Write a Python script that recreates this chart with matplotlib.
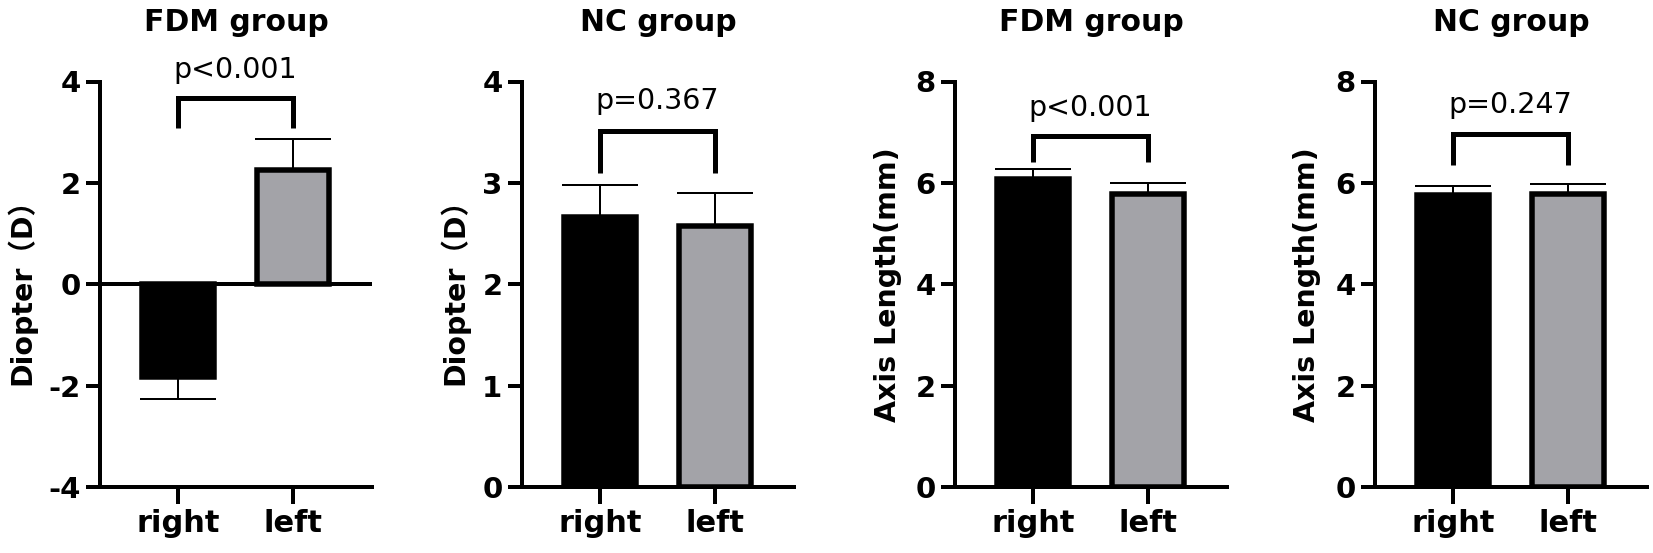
import matplotlib
matplotlib.use('Agg')
import matplotlib.pyplot as plt

plt.rcParams['font.family'] = ['DejaVu Sans', 'Noto Sans CJK SC']
plt.rcParams['font.weight'] = 'bold'
plt.rcParams['axes.unicode_minus'] = False

# ---- data ----
categories = ['right', 'left']
titles = ['FDM group', 'NC group', 'FDM group', 'NC group']
ylabels = ['Diopter（D）', 'Diopter（D）', 'Axis Length(mm)', 'Axis Length(mm)']
means = [[-1.83, 2.25], [2.66, 2.57], [6.07, 5.79], [5.76, 5.79]]
sems = [[0.44, 0.62], [0.32, 0.33], [0.20, 0.20], [0.18, 0.18]]
p_labels = ['p<0.001', 'p=0.367', 'p<0.001', 'p=0.247']
ylims = [(-4, 4), (0, 4), (0, 8), (0, 8)]
yticks = [[-4, -2, 0, 2, 4], [0, 1, 2, 3, 4], [0, 2, 4, 6, 8], [0, 2, 4, 6, 8]]
bracket_top = [3.68, 3.51, 6.92, 6.97]
bracket_bottom = [3.08, 3.10, 6.41, 6.36]
p_text_y = [4.06, 3.73, 7.31, 7.37]

bar_colors = ['#000000', '#a3a3a8']

# ---- layout (pixels) ----
W, H, DPI = 1653, 553, 100
fig = plt.figure(figsize=(W / DPI, H / DPI), dpi=DPI)
lefts_px = [100, 522, 955, 1375]
width_px = 272
top_px, bottom_px = 81.5, 487
label_off_px = [79, 68, 67, 68]

px2pt = 72.0 / DPI
spine_lw = 4 * px2pt
edge_lw = 5.5 * px2pt

for i in range(4):
    ax = fig.add_axes([lefts_px[i] / W, 1 - bottom_px / H,
                       width_px / W, (bottom_px - top_px) / H])
    x = list(range(len(categories)))
    ax.bar(x, means[i], width=0.62, color=bar_colors, edgecolor='black',
           linewidth=edge_lw, zorder=3)
    for j in x:
        m, e = means[i][j], sems[i][j]
        yerr = [[e], [0]] if m < 0 else [[0], [e]]
        ax.errorbar([j], [m], yerr=yerr, fmt='none', ecolor='black',
                    elinewidth=2 * px2pt, capsize=38 * px2pt,
                    capthick=2 * px2pt, zorder=2)
    if ylims[i][0] < 0:
        ax.axhline(0, color='black', lw=spine_lw, zorder=4,
                   solid_capstyle='butt')

    ax.set_xlim(-78 / 115, -78 / 115 + width_px / 115)
    ax.set_ylim(*ylims[i])
    ax.set_yticks(yticks[i])
    ax.set_xticks(x)
    ax.set_xticklabels(categories)

    for s in ['top', 'right']:
        ax.spines[s].set_visible(False)
    for s in ['left', 'bottom']:
        ax.spines[s].set_linewidth(spine_lw)
        ax.spines[s].set_capstyle('projecting')

    ax.tick_params(axis='y', direction='out', length=14 * px2pt,
                   width=spine_lw, labelsize=21, pad=4.0)
    ax.tick_params(axis='x', direction='out', length=17 * px2pt,
                   width=spine_lw, labelsize=22, pad=3.5)

    # bracket and p value
    ax.plot([0, 0, 1, 1],
            [bracket_bottom[i], bracket_top[i], bracket_top[i], bracket_bottom[i]],
            color='black', lw=5 * px2pt, solid_joinstyle='miter',
            solid_capstyle='butt', clip_on=False, zorder=5)
    ax.text(0.5, p_text_y[i], p_labels[i], ha='center', va='baseline',
            fontsize=20.5, fontweight='normal', clip_on=False)

    ax.set_title(titles[i], fontsize=21.5, fontweight='bold',
                 y=1.0, pad=50.5 * px2pt)
    ax.set_ylabel(ylabels[i], fontsize=20.5, fontweight='bold')
    ax.yaxis.set_label_coords(-label_off_px[i] / width_px, 0.5)
    ax.yaxis.label.set_va('center')

fig.savefig('out.png', dpi=DPI, facecolor='white')
